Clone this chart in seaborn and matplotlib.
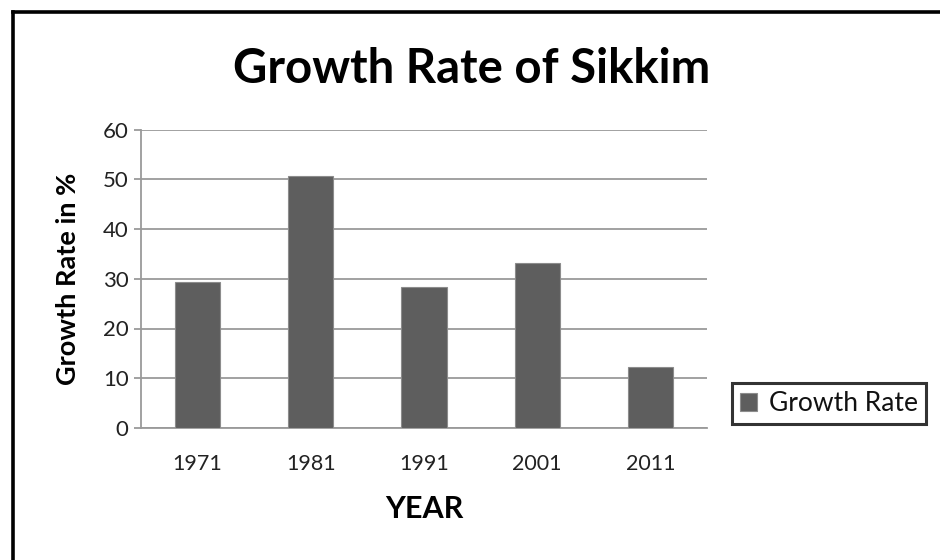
import matplotlib
matplotlib.use("Agg")
import matplotlib.pyplot as plt
import seaborn as sns
import pandas as pd
from matplotlib.lines import Line2D

years = ["1971", "1981", "1991", "2001", "2011"]
growth_rate = [29.3, 50.7, 28.4, 33.1, 12.2]
series_name = "Growth Rate"
y_ticks = [0, 10, 20, 30, 40, 50, 60]

df = pd.DataFrame({"YEAR": years, "rate": growth_rate, "series": [series_name] * len(years)})

sns.set_style("white")
plt.rcParams["font.family"] = ["Lato", "DejaVu Sans"]

fig = plt.figure(figsize=(9.4, 5.6), dpi=100)
ax = fig.add_axes([141 / 940, 1 - 428 / 560, (707 - 141) / 940, (428 - 129.5) / 560])

sns.barplot(data=df, x="YEAR", y="rate", hue="series", palette=["#5e5e5e"],
            width=0.4, edgecolor="#8c8c8c", linewidth=0.8, ax=ax, legend=True, zorder=3)

ax.set_ylim(0, 60)
ax.set_yticks(y_ticks)
ax.set_xlim(-0.5, len(years) - 0.5)
ax.grid(axis="y", color="#9a9a9a", linewidth=1.3, zorder=0)
ax.set_axisbelow(True)
for s in ["top", "right"]:
    ax.spines[s].set_visible(False)
for s in ["left", "bottom"]:
    ax.spines[s].set_color("#9a9a9a")
    ax.spines[s].set_linewidth(1.3)

ax.tick_params(axis="y", length=5, width=1.3, color="#9a9a9a", labelsize=16, labelcolor="#222222", pad=4, left=True)
ax.tick_params(axis="x", length=0, labelsize=15.5, labelcolor="#222222", pad=19)

ax.set_ylabel("Growth Rate in %", fontsize=19.5, fontweight="bold", color="black")
ax.yaxis.set_label_coords(-0.108, 0.5)
ax.set_xlabel("YEAR", fontsize=22, fontweight="bold", color="black")
ax.xaxis.set_label_coords(0.5, -0.225)

handles, labels = ax.get_legend_handles_labels()
if ax.get_legend() is not None:
    ax.get_legend().remove()
leg = fig.legend(handles, labels, loc="center left", bbox_to_anchor=(732 / 940, 1 - 403.5 / 560),
                 frameon=True, fancybox=False, fontsize=19, handlelength=0.65, handleheight=0.65,
                 handletextpad=0.45, borderpad=0.3, borderaxespad=0)
leg.get_frame().set_edgecolor("black")
leg.get_frame().set_linewidth(2.2)
for t in leg.get_texts():
    t.set_color("#111111")

fig.text(472 / 940, 1 - 83 / 560, "Growth Rate of Sikkim", ha="center", va="baseline",
         fontsize=34, fontweight="bold", color="black")

# outer chart border (top and left edges visible)
fig.add_artist(Line2D([12.5 / 940, 12.5 / 940], [0, 1 - 12 / 560], transform=fig.transFigure,
                      color="black", linewidth=2.6, solid_capstyle="projecting"))
fig.add_artist(Line2D([12.5 / 940, 1], [1 - 12 / 560, 1 - 12 / 560], transform=fig.transFigure,
                      color="black", linewidth=2.6, solid_capstyle="projecting"))

fig.savefig("out.png", dpi=100, facecolor="white")
